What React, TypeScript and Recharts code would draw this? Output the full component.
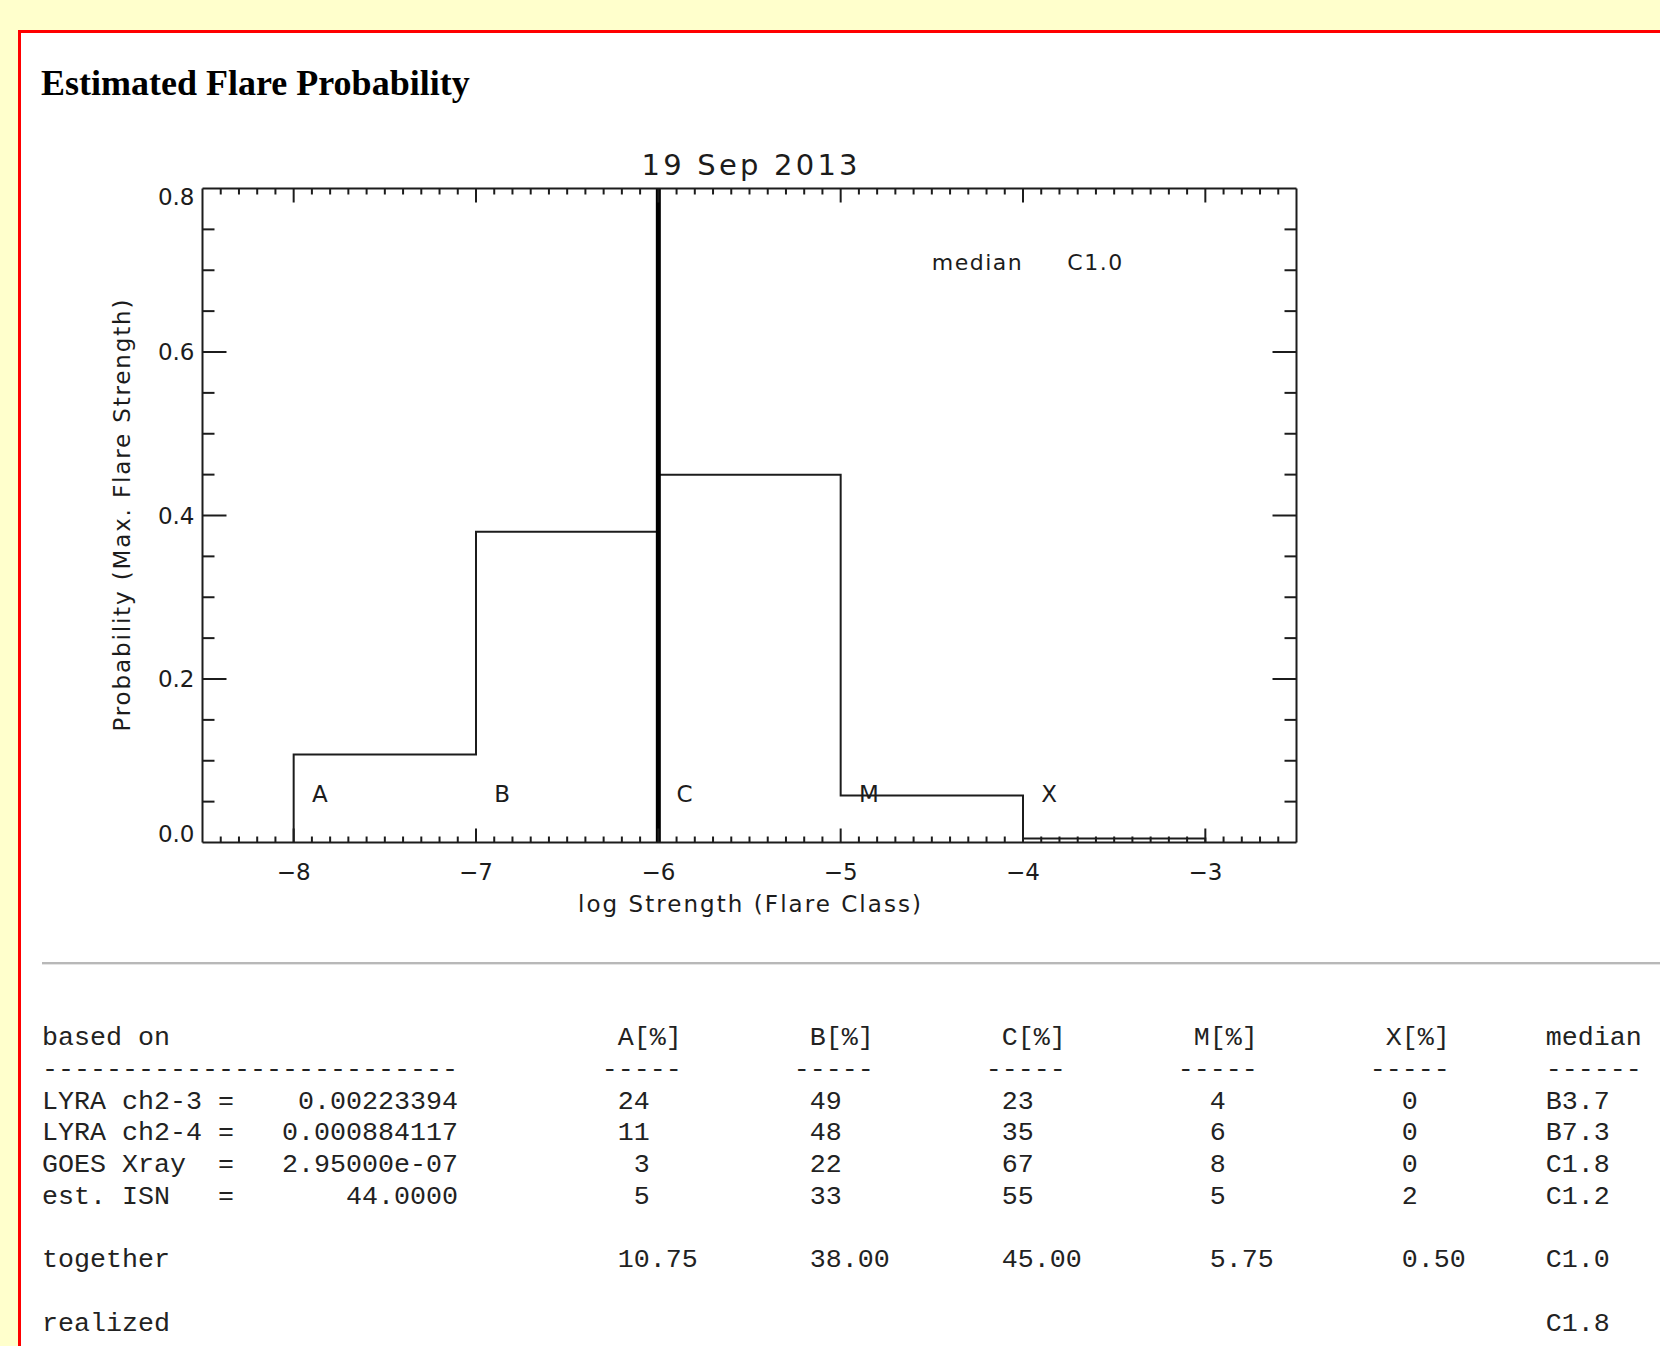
import React from 'react';
import { ComposedChart, Line, XAxis, YAxis, ReferenceLine, ReferenceDot, Label } from 'recharts';

// ---- forecast data -------------------------------------------------------
const plotDate = '19 Sep 2013';
const flareClasses = ['A', 'B', 'C', 'M', 'X'];
const binEdges = [-8, -7, -6, -5, -4, -3];
const togetherPct = [10.75, 38.0, 45.0, 5.75, 0.5];
const medianClass = 'C1.0';
const realizedClass = 'C1.8';

const sourceNames = ['LYRA ch2-3', 'LYRA ch2-4', 'GOES Xray', 'est. ISN'];
const sourceValues = ['0.00223394', '0.000884117', '2.95000e-07', '44.0000'];
const pctA = [24, 11, 3, 5];
const pctB = [49, 48, 22, 33];
const pctC = [23, 35, 67, 55];
const pctM = [4, 6, 8, 5];
const pctX = [0, 0, 0, 2];
const sourceMedians = ['B3.7', 'B7.3', 'C1.8', 'C1.2'];

// ---- axes ----------------------------------------------------------------
const xDomain: [number, number] = [-8.5, -2.5];
const yDomain: [number, number] = [0, 0.8];
const xMajorTicks = [-8, -7, -6, -5, -4, -3];
const yMajorTicks = [0, 0.2, 0.4, 0.6, 0.8];
const xMinorStep = 0.1;
const yMinorStep = 0.05;

function evenTicks(lo: number, hi: number, step: number): number[] {
  const n = Math.round((hi - lo) / step);
  const out: number[] = [];
  for (let i = 0; i <= n; i++) out.push(Math.round((lo + i * step) * 1000) / 1000);
  return out;
}
const xAllTicks = evenTicks(xDomain[0], xDomain[1], xMinorStep);
const yAllTicks = evenTicks(yDomain[0], yDomain[1], yMinorStep);

const classBase: Record<string, number> = { A: -8, B: -7, C: -6, M: -5, X: -4 };
const classToLog = (cls: string) => classBase[cls[0]] + Math.log10(parseFloat(cls.slice(1)));
const medianLog = classToLog(medianClass);

// histogram outline, one step per flare class
const stepData = [
  { x: binEdges[0], p: 0 },
  ...togetherPct.map((pct, i) => ({ x: binEdges[i], p: pct / 100 })),
  { x: binEdges[binEdges.length - 1], p: togetherPct[togetherPct.length - 1] / 100 },
  { x: binEdges[binEdges.length - 1], p: 0 },
];

// ---- layout --------------------------------------------------------------
const CHART_W = 1400;
const CHART_H = 950;
const MARGIN = { top: 178.5, right: 93.5, bottom: 47.5, left: 102.5 };
const TOP_AXIS_H = 10;
const BOTTOM_AXIS_H = 60;
const PLOT_H = CHART_H - MARGIN.top - MARGIN.bottom - TOP_AXIS_H - BOTTOM_AXIS_H;

// ---- styling -------------------------------------------------------------
const INK = '#1c1c1c';
const PLOT_FONT = '"DejaVu Sans", sans-serif';
const X_MAJOR_LEN = 14;
const X_MINOR_LEN = 6;
const Y_MAJOR_LEN = 24;
const Y_MINOR_LEN = 12;
const textStyle = { fontFamily: PLOT_FONT, fontSize: 23, fill: INK } as const;

const fmtX = (v: number) => (v < 0 ? '\u2212' + Math.abs(v) : String(v));
const fmtY = (v: number) => v.toFixed(1);

// bottom axis: inward ticks on the lower frame edge and the matching
// inward ticks on the upper frame edge, plus the major labels
const BottomTick = (props: any) => {
  const { x, y, payload } = props;
  const v = payload.value as number;
  const major = xMajorTicks.includes(v);
  const edge = v === xDomain[0] || v === xDomain[1];
  const len = major ? X_MAJOR_LEN : X_MINOR_LEN;
  const top = y - PLOT_H;
  return (
    <g>
      {!edge && <line x1={x} y1={y} x2={x} y2={y - len} stroke={INK} strokeWidth={2} />}
      {!edge && <line x1={x} y1={top} x2={x} y2={top + len} stroke={INK} strokeWidth={2} />}
      {major && (
        <text x={x} y={y + 37} textAnchor="middle" {...textStyle}>
          {fmtX(v)}
        </text>
      )}
    </g>
  );
};

const LeftTick = (props: any) => {
  const { x, y, payload } = props;
  const v = payload.value as number;
  const major = yMajorTicks.includes(v);
  const edge = v === yDomain[0] || v === yDomain[1];
  // end labels are nudged inside the frame
  const shift = v === yDomain[0] ? -8.5 : v === yDomain[1] ? 8 : 0;
  return (
    <g>
      {!edge && (
        <line x1={x} y1={y} x2={x + (major ? Y_MAJOR_LEN : Y_MINOR_LEN)} y2={y} stroke={INK} strokeWidth={2} />
      )}
      {major && (
        <text x={x - 8} y={y + 8.4 + shift} textAnchor="end" {...textStyle}>
          {fmtY(v)}
        </text>
      )}
    </g>
  );
};

const RightTick = (props: any) => {
  const { x, y, payload } = props;
  const v = payload.value as number;
  const major = yMajorTicks.includes(v);
  const edge = v === yDomain[0] || v === yDomain[1];
  if (edge) return <g />;
  return <line x1={x} y1={y} x2={x - (major ? Y_MAJOR_LEN : Y_MINOR_LEN)} y2={y} stroke={INK} strokeWidth={2} />;
};

const axisLine = { stroke: INK, strokeWidth: 2 };

// ---- forecast table ------------------------------------------------------
const colStarts = [35, 47, 59, 71, 83];
const medianCol = 94;

function place(line: string[], col: number, s: string) {
  for (let i = 0; i < s.length; i++) line[col + i] = s[i];
}
function makeLine(): string[] {
  return new Array(101).fill(' ');
}
function buildTable(): string {
  const lines: string[] = [];
  const header = makeLine();
  place(header, 0, 'based on');
  flareClasses.forEach((c, i) => place(header, colStarts[i] + 1, c + '[%]'));
  place(header, medianCol, 'median');
  lines.push(header.join(''));

  const rule = makeLine();
  place(rule, 0, '-'.repeat(26));
  colStarts.forEach((c) => place(rule, c, '-----'));
  place(rule, medianCol, '------');
  lines.push(rule.join(''));

  const cols = [pctA, pctB, pctC, pctM, pctX];
  sourceNames.forEach((name, r) => {
    const ln = makeLine();
    place(ln, 0, name.padEnd(11) + '=');
    place(ln, 26 - sourceValues[r].length, sourceValues[r]);
    cols.forEach((arr, i) => place(ln, colStarts[i], String(arr[r]).padStart(3)));
    place(ln, medianCol, sourceMedians[r]);
    lines.push(ln.join(''));
  });
  lines.push('');

  const tog = makeLine();
  place(tog, 0, 'together');
  togetherPct.forEach((v, i) => place(tog, colStarts[i], v.toFixed(2).padStart(6)));
  place(tog, medianCol, medianClass);
  lines.push(tog.join(''));
  lines.push('');

  const real = makeLine();
  place(real, 0, 'realized');
  place(real, medianCol, realizedClass);
  lines.push(real.join(''));

  return lines.map((l) => l.replace(/\s+$/, '')).join('\n');
}

// ---- chart ---------------------------------------------------------------
function ProbabilityChart() {
  return (
    <ComposedChart width={CHART_W} height={CHART_H} data={stepData} margin={MARGIN}>
      <XAxis
        dataKey="x"
        type="number"
        domain={xDomain}
        allowDataOverflow
        ticks={xAllTicks}
        interval={0}
        height={BOTTOM_AXIS_H}
        tickSize={0}
        tickMargin={0}
        tickLine={false}
        axisLine={axisLine}
        tick={(p: any) => <BottomTick {...p} />}
      >
        <Label
          content={(p: any) => {
            const vb = p.viewBox;
            return (
              <text
                x={vb.x + vb.width / 2}
                y={vb.y + 69}
                textAnchor="middle"
                textLength={343}
                lengthAdjust="spacing"
                {...textStyle}
              >
                log Strength (Flare Class)
              </text>
            );
          }}
        />
      </XAxis>
      <XAxis
        xAxisId="top"
        dataKey="x"
        orientation="top"
        type="number"
        domain={xDomain}
        allowDataOverflow
        ticks={xMajorTicks}
        height={TOP_AXIS_H}
        tick={false}
        tickLine={false}
        axisLine={axisLine}
      >
        <Label
          content={(p: any) => {
            const vb = p.viewBox;
            return (
              <text
                x={vb.x + vb.width / 2}
                y={vb.y - 3.5}
                textAnchor="middle"
                textLength={216}
                lengthAdjust="spacing"
                {...textStyle}
                fontSize={29}
              >
                {plotDate}
              </text>
            );
          }}
        />
      </XAxis>
      <YAxis
        type="number"
        domain={yDomain}
        allowDataOverflow
        ticks={yAllTicks}
        interval={0}
        width={100}
        tickSize={0}
        tickMargin={0}
        tickLine={false}
        axisLine={axisLine}
        tick={(p: any) => <LeftTick {...p} />}
      >
        <Label
          content={(p: any) => {
            const vb = p.viewBox;
            const cx = vb.x + 27.5;
            const cy = vb.y + vb.height / 2;
            return (
              <text
                x={cx}
                y={cy}
                transform={`rotate(-90, ${cx}, ${cy})`}
                textAnchor="middle"
                textLength={432}
                lengthAdjust="spacing"
                {...textStyle}
              >
                Probability (Max. Flare Strength)
              </text>
            );
          }}
        />
      </YAxis>
      <YAxis
        yAxisId="right"
        orientation="right"
        type="number"
        domain={yDomain}
        allowDataOverflow
        ticks={yAllTicks}
        interval={0}
        width={10}
        tickSize={0}
        tickMargin={0}
        tickLine={false}
        axisLine={axisLine}
        tick={(p: any) => <RightTick {...p} />}
      />
      <Line
        type="stepAfter"
        dataKey="p"
        stroke={INK}
        strokeWidth={2}
        dot={false}
        activeDot={false}
        isAnimationActive={false}
      />
      <ReferenceLine x={medianLog} stroke="#000" strokeWidth={5} />
      {flareClasses.map((c, i) => (
        <ReferenceDot
          key={c}
          x={binEdges[i] + 0.1}
          y={0.05}
          r={0}
          shape={(p: any) => (
            <text x={p.cx} y={p.cy} textAnchor="start" {...textStyle}>
              {c}
            </text>
          )}
        />
      ))}
      <ReferenceDot
        x={-4.5}
        y={0.7}
        r={0}
        shape={(p: any) => (
          <text x={p.cx} y={p.cy} textAnchor="start" {...textStyle} fontSize={22} letterSpacing={1.5}>
            <tspan>median</tspan>
            <tspan dx={44}>{medianClass}</tspan>
          </text>
        )}
      />
    </ComposedChart>
  );
}

export default function App() {
  return (
    <div
      style={{
        position: 'absolute',
        left: 0,
        top: 0,
        width: 1660,
        height: 1346,
        background: '#ffffcc',
        overflow: 'hidden',
      }}
    >
      <div
        style={{
          position: 'absolute',
          left: 18,
          top: 30,
          width: 1800,
          height: 1500,
          border: '3px solid #ff0000',
          background: '#ffffff',
        }}
      />
      <div
        style={{
          position: 'absolute',
          left: 41,
          top: 65,
          fontFamily: '"Liberation Serif", "Times New Roman", serif',
          fontWeight: 'bold',
          fontSize: 36,
          lineHeight: '36px',
          color: '#000',
          whiteSpace: 'nowrap',
        }}
      >
        Estimated Flare Probability
      </div>
      <div style={{ position: 'absolute', left: 0, top: 0, width: CHART_W, height: CHART_H }}>
        <ProbabilityChart />
      </div>
      <div
        style={{
          position: 'absolute',
          left: 42,
          top: 962,
          width: 1700,
          height: 0,
          borderTop: '2px solid #b8b8b8',
          borderBottom: '1px solid #e4e4e4',
        }}
      />
      <pre
        style={{
          position: 'absolute',
          left: 42,
          top: 1023,
          margin: 0,
          fontFamily: '"Liberation Mono", "Courier New", monospace',
          fontSize: 26.67,
          lineHeight: '31.76px',
          color: '#222',
        }}
      >
        {buildTable()}
      </pre>
    </div>
  );
}
